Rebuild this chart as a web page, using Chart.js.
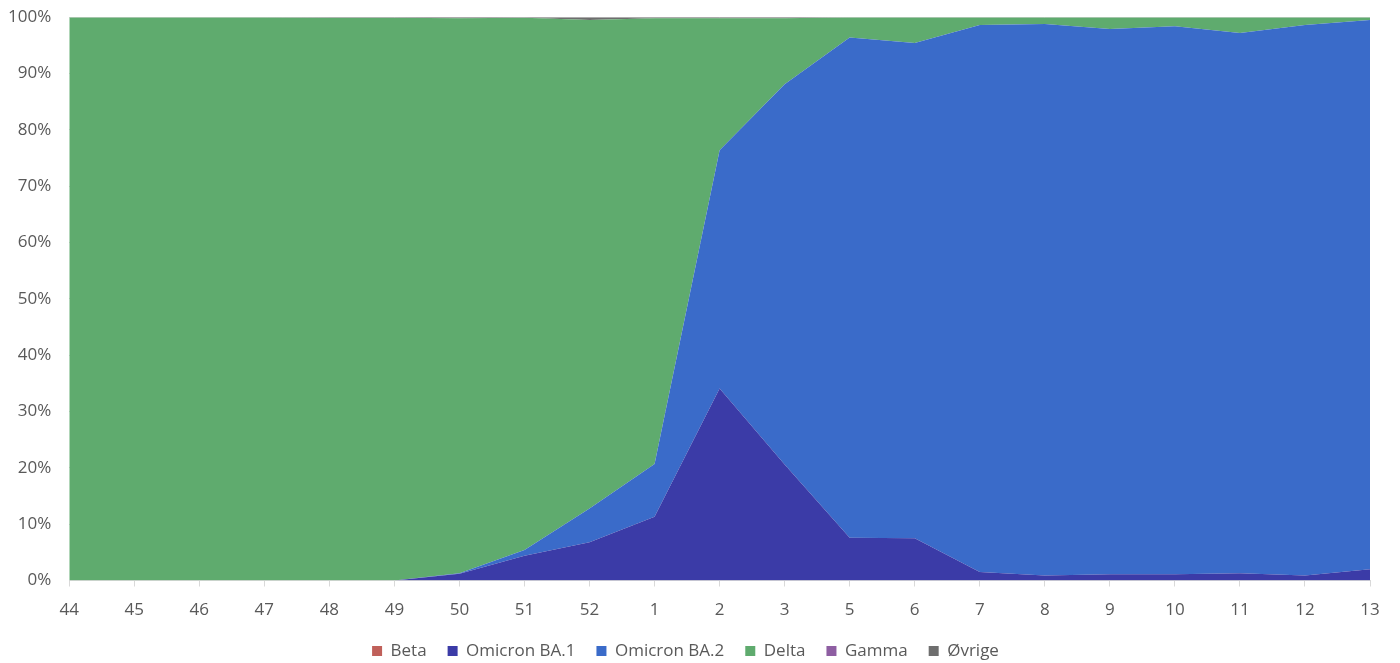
<!DOCTYPE html>
<html>
<head>
<meta charset="utf-8">
<script src="https://cdn.jsdelivr.net/npm/chart.js@4/dist/chart.umd.min.js"></script>
<style>
  html, body { margin: 0; padding: 0; background: #fff; }
  #wrap { width: 1400px; height: 663px; }
</style>
</head>
<body>
<div id="wrap"><canvas id="variantChart"></canvas></div>
<script>
const weeks = ['44', '45', '46', '47', '48', '49', '50', '51', '52', '1', '2', '3', '5', '6', '7', '8', '9', '10', '11', '12', '13'];

// andel i prosent per uke
const beta     = [0, 0, 0, 0, 0, 0, 0, 0, 0, 0, 0, 0, 0, 0, 0, 0, 0, 0, 0, 0, 0];
const omicronBA1 = [0, 0, 0, 0, 0, 0, 1.2, 4.4, 6.8, 11.3, 34.1, 20.6, 7.6, 7.5, 1.5, 0.9, 1.1, 1.1, 1.3, 0.9, 2.0];
const omicronBA2 = [0, 0, 0, 0, 0, 0, 0.1, 1.0, 6.0, 9.4, 42.3, 67.5, 88.8, 87.9, 97.1, 97.9, 96.8, 97.3, 95.9, 97.7, 97.5];
const delta    = [100, 100, 100, 100, 99.9, 99.9, 98.5, 94.5, 86.7, 79.1, 23.4, 11.7, 3.6, 4.6, 1.4, 1.2, 2.1, 1.6, 2.8, 1.4, 0.5];
const gamma    = [0, 0, 0, 0, 0, 0, 0, 0, 0, 0, 0, 0, 0, 0, 0, 0, 0, 0, 0, 0, 0];
const ovrige   = [0, 0, 0, 0, 0.1, 0.1, 0.2, 0.1, 0.5, 0.2, 0.2, 0.2, 0, 0, 0, 0, 0, 0, 0, 0, 0];

const yTicks = [0, 10, 20, 30, 40, 50, 60, 70, 80, 90, 100];

const textColor = '#595959';
const lineColor = '#d9d9d9';
const font = { family: 'Open Sans', size: 17 };

function area(label, data, color, first) {
    return {
        label: label,
        data: data,
        backgroundColor: color,
        borderColor: color,
        borderWidth: 0,
        pointRadius: 0,
        pointHoverRadius: 0,
        tension: 0,
        fill: first ? 'origin' : '-1'
    };
}

const ctx = document.getElementById('variantChart').getContext('2d');

const variantChart = new Chart(ctx, {
    type: 'line',
    data: {
        labels: weeks,
        datasets: [
            area('Beta', beta, 'rgb(192, 96, 90)', true),
            area('Omicron BA.1', omicronBA1, 'rgb(59, 59, 167)'),
            area('Omicron BA.2', omicronBA2, 'rgb(58, 107, 201)'),
            area('Delta', delta, 'rgb(95, 171, 110)'),
            area('Gamma', gamma, 'rgb(142, 94, 162)'),
            area('Øvrige', ovrige, 'rgb(110, 110, 110)')
        ]
    },
    options: {
        responsive: true,
        maintainAspectRatio: false,
        animation: false,
        layout: {
            padding: { left: 1, right: 30, top: 0, bottom: -6.5 }
        },
        plugins: {
            legend: {
                position: 'bottom',
                labels: {
                    color: textColor,
                    font: font,
                    boxWidth: 10,
                    boxHeight: 10,
                    padding: 21
                }
            },
            tooltip: { enabled: false }
        },
        scales: {
            x: {
                offset: false,
                border: { color: lineColor, width: 1 },
                grid: {
                    display: true,
                    drawOnChartArea: false,
                    drawTicks: true,
                    tickLength: 6,
                    color: lineColor
                },
                ticks: {
                    color: textColor,
                    font: font,
                    padding: 13,
                    maxRotation: 0,
                    autoSkip: false
                },
                afterFit: function (axis) {
                    axis.height = 41;
                }
            },
            y: {
                stacked: true,
                min: 0,
                max: 100,
                afterBuildTicks: function (axis) {
                    axis.ticks = yTicks.map(function (v) { return { value: v }; });
                },
                border: { display: false },
                grid: {
                    color: lineColor,
                    drawTicks: true,
                    tickLength: 11,
                    tickColor: 'rgba(0, 0, 0, 0)'
                },
                ticks: {
                    color: textColor,
                    font: font,
                    padding: 7,
                    callback: function (v) { return v + '%'; }
                }
            }
        }
    }
});
</script>
</body>
</html>
